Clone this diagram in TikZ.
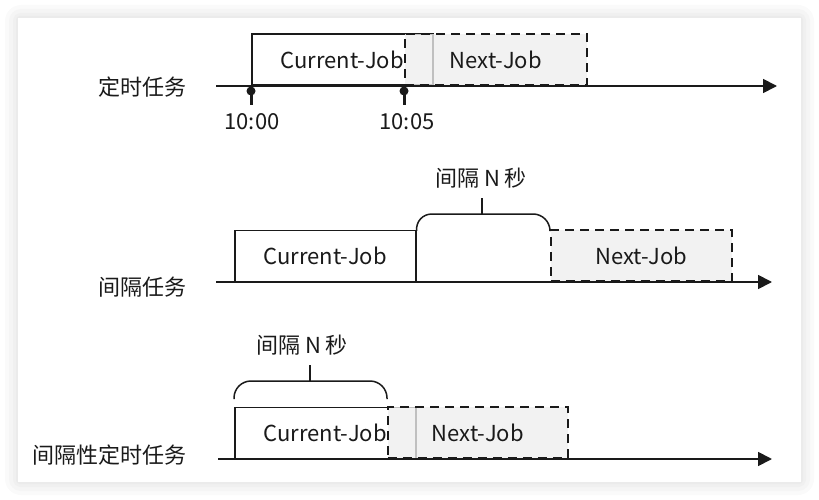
\documentclass[tikz,border=0pt]{standalone}
\usepackage{fontspec}
\setmainfont{Noto Sans CJK SC}
\usetikzlibrary{arrows.meta}
\definecolor{ink}{HTML}{1A1A1A}
\definecolor{jobgray}{HTML}{EFEFEF}
\begin{document}
\begin{tikzpicture}[x=1pt,y=-1pt,
  lbl/.style={font=\fontsize{22}{26}\selectfont, text=ink, inner sep=0pt},
  axisline/.style={line width=1.8pt, draw=ink, -{Triangle[length=14pt,width=14pt]}},
  curjob/.style={draw=ink, line width=1.5pt, fill=white, anchor=south west, minimum height=51pt,
    inner sep=0pt, font=\fontsize{22}{26}\selectfont, text=ink},
  nextjob/.style={draw=ink, line width=1.6pt, dash pattern=on 9pt off 6pt, fill=jobgray, fill opacity=0.78,
    text opacity=1, draw opacity=1, anchor=south west, minimum height=51pt, inner sep=0pt,
    font=\fontsize{22}{26}\selectfont, text=ink},
  bracket/.style={draw=ink, line width=1.5pt, rounded corners=17pt},
  tickline/.style={draw=ink, line width=3pt}]
\useasboundingbox (0,0) rectangle (819,500);
% card with soft shadow
\fill[black!2, rounded corners=16pt] (5,5) rectangle (814,495);
\fill[black!4, rounded corners=12pt] (9,9) rectangle (810,491);
\fill[black!6, rounded corners=8pt] (13,13) rectangle (806,487);
\fill[black!8, rounded corners=4pt] (16,16) rectangle (803,484);
\fill[white] (18,18) rectangle (801,482);

% ---------- row 1 ----------
\coordinate (a1s) at (216,86);
\coordinate (a1e) at (777,86);
\node[lbl, anchor=east] (r1) at (187,87) {定时任务};
\node[curjob, minimum width=181pt] (cj1) at (251,86) {Current-Job};
\node[nextjob, minimum width=182pt] (nj1) at (404,86) {Next-Job};
\draw[axisline] (a1s) -- (a1e);
\coordinate (t1) at (251,86);
\coordinate (t1b) at (251,105);
\coordinate (t2) at (404,86);
\coordinate (t2b) at (404,105);
\draw[tickline] (t1) -- (t1b);
\draw[tickline] (t2) -- (t2b);
\fill[ink] (251,91) circle (4.5pt);
\fill[ink] (404,91) circle (4.5pt);
\node[lbl] (l1000) at (252,122) {10:00};
\node[lbl] (l1005) at (407,122) {10:05};

% ---------- row 2 ----------
\coordinate (a2s) at (216,282);
\coordinate (a2e) at (772,282);
\node[lbl, anchor=east] (r2) at (187,287) {间隔任务};
\node[curjob, minimum width=181pt] (cj2) at (234,282) {Current-Job};
\node[nextjob, minimum width=181pt] (nj2) at (550,282) {Next-Job};
\draw[axisline] (a2s) -- (a2e);
\draw[bracket] (cj2.north east) -- (415,214) -- (550,214) -- (nj2.north west);
\coordinate (s2a) at (482,214);
\coordinate (s2b) at (482,198);
\draw[draw=ink, line width=1.5pt] (s2a) -- (s2b);
\node[lbl] (g2) at (481,178) {间隔 N 秒};

% ---------- row 3 ----------
\coordinate (a3s) at (218,459);
\coordinate (a3e) at (772,459);
\node[lbl, anchor=east] (r3) at (187,455) {间隔性定时任务};
\node[curjob, minimum width=181pt] (cj3) at (234,459) {Current-Job};
\node[nextjob, minimum width=180pt] (nj3) at (387,459) {Next-Job};
\draw[axisline] (a3s) -- (a3e);
\coordinate (b3l) at (234,399);
\coordinate (b3r) at (387,399);
\draw[bracket] (b3l) -- (234,381) -- (387,381) -- (b3r);
\coordinate (s3a) at (310,381);
\coordinate (s3b) at (310,365);
\draw[draw=ink, line width=1.5pt] (s3a) -- (s3b);
\node[lbl] (g3) at (302,345) {间隔 N 秒};
\end{tikzpicture}
\end{document}
